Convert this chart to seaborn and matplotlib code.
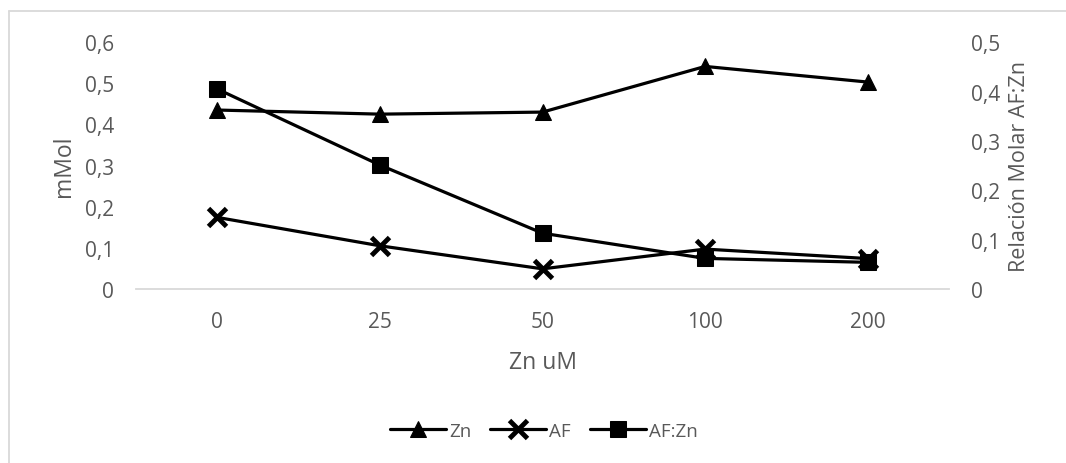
import numpy as np
import pandas as pd
import matplotlib
matplotlib.use("Agg")
import matplotlib.pyplot as plt
from matplotlib.lines import Line2D
import seaborn as sns

categories = ["0", "25", "50", "100", "200"]
zn = [0.435, 0.425, 0.430, 0.541, 0.503]
af = [0.174, 0.105, 0.049, 0.097, 0.074]
af_zn = [0.405, 0.251, 0.113, 0.062, 0.054]
left_ticks = [0, 0.1, 0.2, 0.3, 0.4, 0.5, 0.6]
left_labels = ["0", "0,1", "0,2", "0,3", "0,4", "0,5", "0,6"]
right_ticks = [0, 0.1, 0.2, 0.3, 0.4, 0.5]
right_labels = ["0", "0,1", "0,2", "0,3", "0,4", "0,5"]

sns.set_style("white")
plt.rcParams['font.family'] = ['Open Sans', 'DejaVu Sans']
gray = "#595959"

fig = plt.figure(figsize=(10.66, 4.64), dpi=100)
ax = fig.add_axes([0.1276, 0.375, 0.7627, 0.532])
ax2 = ax.twinx()

pos = np.arange(len(categories))
df = pd.DataFrame({"pos": pos, "Zn": zn, "AF": af, "AF:Zn": af_zn})

lw = 2.3
sns.lineplot(data=df, x="pos", y="Zn", ax=ax, color="black", lw=lw,
             marker="^", markersize=11, markeredgecolor="black", label="Zn", legend=False)
sns.lineplot(data=df, x="pos", y="AF", ax=ax, color="black", lw=lw,
             marker="x", markersize=13, markeredgewidth=3.5, markeredgecolor="black",
             label="AF", legend=False)
sns.lineplot(data=df, x="pos", y="AF:Zn", ax=ax2, color="black", lw=lw,
             marker="s", markersize=12, markeredgecolor="black", label="AF:Zn", legend=False)

ax.set_xlim(-0.5, len(categories) - 0.5)
ax.set_ylim(0, 0.6)
ax2.set_ylim(0, 0.5)
ax.set_xticks(pos)
ax.set_xticklabels(categories)
ax.set_yticks(left_ticks)
ax.set_yticklabels(left_labels)
ax2.set_yticks(right_ticks)
ax2.set_yticklabels(right_labels)

for a in (ax, ax2):
    for s in a.spines.values():
        s.set_visible(False)
    a.tick_params(length=0, labelsize=15, colors=gray)
    a.grid(False)
ax.spines["bottom"].set_visible(True)
ax.spines["bottom"].set_color("#d9d9d9")
ax.spines["bottom"].set_linewidth(1.3)
ax.tick_params(axis="y", pad=16)
ax.tick_params(axis="x", pad=16)
ax2.tick_params(axis="y", pad=16)

ax.set_xlabel("Zn uM", fontsize=16.5, color=gray, labelpad=13)
ax.set_ylabel("mMol", fontsize=16.5, color=gray, labelpad=6)
ax2.set_ylabel("Relación Molar AF:Zn", fontsize=15.5, color=gray, labelpad=6)

h1, l1 = ax.get_legend_handles_labels()
h2, l2 = ax2.get_legend_handles_labels()
fig.legend(h1 + h2, l1 + l2, loc="center", bbox_to_anchor=(0.510, 0.069), ncol=3,
           frameon=False, fontsize=13.5, handlelength=3.0, columnspacing=1.0,
           handletextpad=0.15, labelcolor=gray)

# figure border (top and left edges visible)
fig.add_artist(Line2D([9 / 1066, 1.0], [1 - 12 / 464, 1 - 12 / 464], color="#d9d9d9", lw=1.3,
                      transform=fig.transFigure))
fig.add_artist(Line2D([9 / 1066, 9 / 1066], [0.0, 1 - 12 / 464], color="#d9d9d9", lw=1.3,
                      transform=fig.transFigure))

fig.savefig("out.png", dpi=100)
